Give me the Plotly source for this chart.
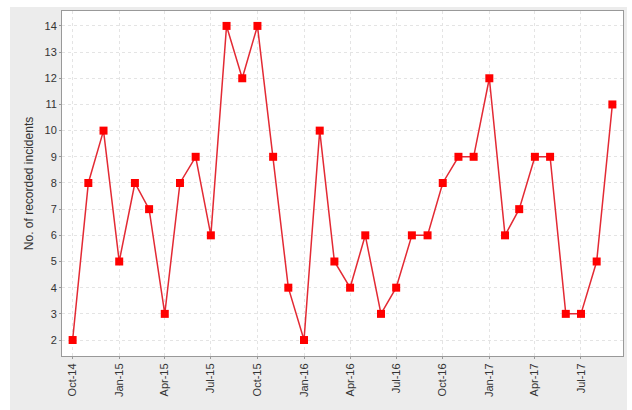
import plotly.graph_objects as go
import pandas as pd

months = pd.date_range("2014-10-01", "2017-09-01", freq="MS").strftime("%Y-%m-%d").tolist()
incidents = [2, 8, 10, 5, 8, 7, 3, 8, 9, 6, 14, 12, 14, 9, 4, 2, 10, 5, 4, 6,
             3, 4, 6, 6, 8, 9, 9, 12, 6, 7, 9, 9, 3, 3, 5, 11]
tick_dates = ["2014-10-01", "2015-01-01", "2015-04-01", "2015-07-01", "2015-10-01",
              "2016-01-01", "2016-04-01", "2016-07-01", "2016-10-01", "2017-01-01",
              "2017-04-01", "2017-07-01"]
tick_labels = ["Oct-14", "Jan-15", "Apr-15", "Jul-15", "Oct-15", "Jan-16", "Apr-16",
               "Jul-16", "Oct-16", "Jan-17", "Apr-17", "Jul-17"]
y_ticks = list(range(2, 15))

W, H = 632, 410
L, R, T, B = 62, 623, 11, 356

fig = go.Figure()
fig.add_trace(go.Scatter(
    x=months, y=incidents, mode="lines+markers",
    line=dict(color="#e32a34", width=1.5),
    marker=dict(symbol="square", size=8, color="#ff0000", line=dict(width=0)),
    showlegend=False,
))

pw, ph = R - L, B - T
fig.add_shape(type="rect", xref="paper", yref="paper", layer="below",
              x0=(10 - L) / pw, x1=(627 - L) / pw,
              y0=(B - 412) / ph, y1=(B - 7) / ph,
              fillcolor="#ececec", line=dict(width=0))
fig.add_shape(type="rect", xref="paper", yref="paper", layer="below",
              x0=0, x1=1, y0=0, y1=1,
              fillcolor="white", line=dict(width=0))

fig.update_layout(
    width=W, height=H,
    margin=dict(l=L, r=W - R, t=T, b=H - B, pad=0),
    paper_bgcolor="white", plot_bgcolor="white",
    font=dict(family="Liberation Sans, Arial, sans-serif", size=11, color="#333333"),
    xaxis=dict(
        type="date", range=["2014-09-10", "2017-09-22"],
        tickvals=tick_dates, ticktext=tick_labels, tickangle=-90,
        showgrid=True, gridcolor="#e4e4e4", griddash="dot", gridwidth=1,
        showline=True, linecolor="#999999", linewidth=1, mirror=True,
        ticks="outside", ticklen=2, tickcolor="#999999",
        zeroline=False, tickfont=dict(size=11, color="#333333"),
    ),
    yaxis=dict(
        range=[1.39, 14.57], tickvals=y_ticks,
        showgrid=True, gridcolor="#e4e4e4", griddash="dot", gridwidth=1,
        showline=True, linecolor="#999999", linewidth=1, mirror=True,
        ticks="outside", ticklen=2, tickcolor="#999999",
        zeroline=False, tickfont=dict(size=11, color="#333333"),
        title=dict(text="No. of recorded incidents", font=dict(size=12, color="#333333"), standoff=8),
    ),
)

fig.write_html("out.html", config={"displayModeBar": False},
               post_script="document.body.style.margin='0';")
